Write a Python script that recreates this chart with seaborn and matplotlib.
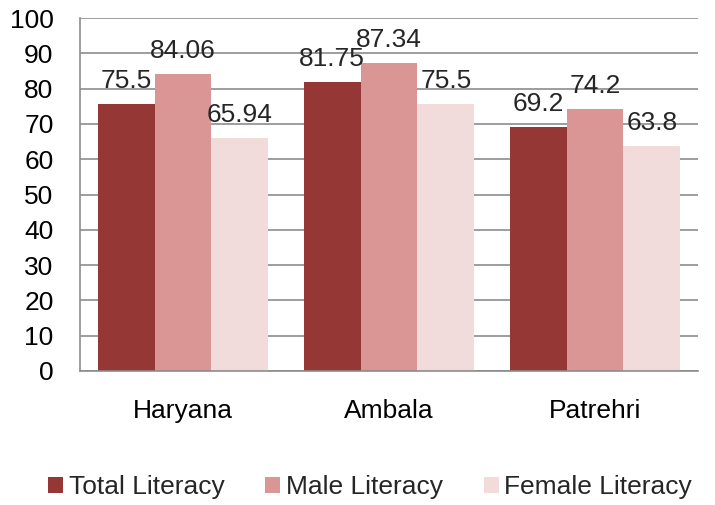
import matplotlib
matplotlib.use("Agg")
import matplotlib.pyplot as plt
import seaborn as sns
import pandas as pd

regions = ["Haryana", "Ambala", "Patrehri"]
series = ["Total Literacy", "Male Literacy", "Female Literacy"]
total = [75.5, 81.75, 69.2]
male = [84.06, 87.34, 74.2]
female = [65.94, 75.5, 63.8]
labels = {"Total Literacy": ["75.5", "81.75", "69.2"],
          "Male Literacy": ["84.06", "87.34", "74.2"],
          "Female Literacy": ["65.94", "75.5", "63.8"]}
colors = ["#953735", "#D99694", "#F2DCDB"]
yticks = list(range(0, 101, 10))

rows = []
for s, vals in zip(series, [total, male, female]):
    for r, v in zip(regions, vals):
        rows.append({"Region": r, "Series": s, "Value": v})
df = pd.DataFrame(rows)

sns.set_style("white")
plt.rcParams["font.family"] = ["Liberation Sans", "DejaVu Sans"]
FS = 19

fig = plt.figure(figsize=(7.15, 5.05), dpi=100)
ax = fig.add_axes([80/715, 1 - 371/505, 618/715, 353/505])
sns.barplot(data=df, x="Region", y="Value", hue="Series", palette=colors,
            width=0.83, saturation=1, ax=ax, legend=True, errorbar=None,
            linewidth=0)

for cont, s in zip(ax.containers, series):
    ax.bar_label(cont, labels=labels[s], fontsize=FS, padding=8)

ax.set_ylim(0, 100)
ax.set_yticks(yticks)
ax.set_xlim(-0.5, 2.5)
ax.yaxis.grid(True, color="#8c8c8c", linewidth=1.2)
ax.set_axisbelow(True)
for sp in ["top", "right"]:
    ax.spines[sp].set_visible(False)
for sp in ["left", "bottom"]:
    ax.spines[sp].set_color("#8c8c8c")
    ax.spines[sp].set_linewidth(1.2)
ax.set_xlabel("")
ax.set_ylabel("")
ax.tick_params(axis="both", labelsize=FS, length=0, colors="black")
ax.tick_params(axis="x", pad=20)
ax.tick_params(axis="y", pad=19)

handles, lbls = ax.get_legend_handles_labels()
ax.legend_.remove()
fig.legend(handles, lbls, loc="center", bbox_to_anchor=(370/715, 1 - 487/505),
           ncol=3, frameon=False, fontsize=FS, handlelength=0.57, handleheight=0.57,
           handletextpad=0.2, columnspacing=1.55)

fig.savefig("out.png", dpi=100)
